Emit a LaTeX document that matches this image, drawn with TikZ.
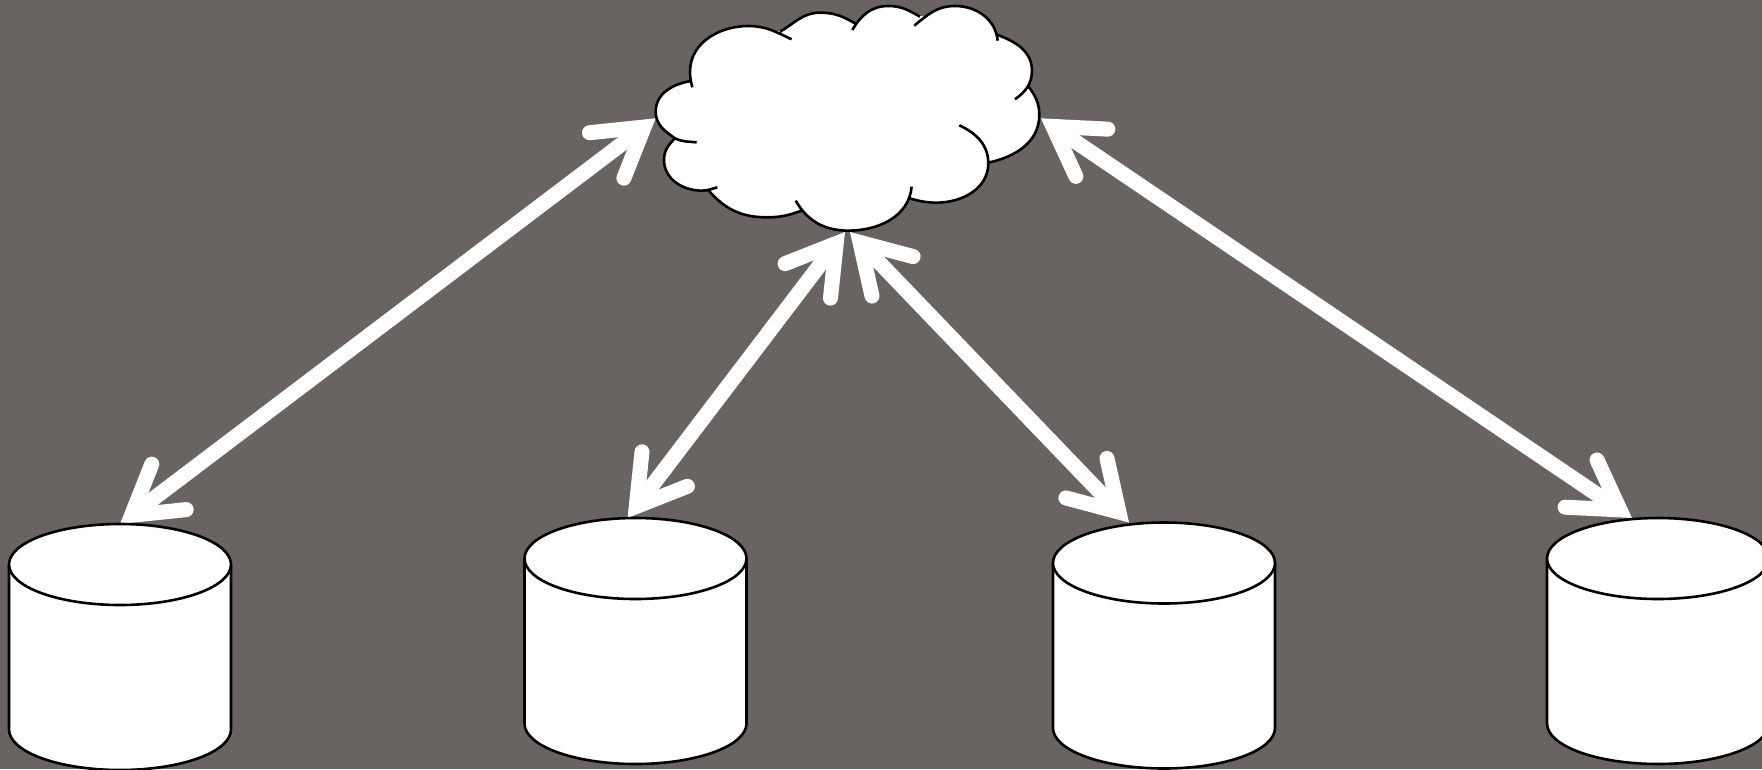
\documentclass[tikz,border=0pt]{standalone}
\usetikzlibrary{backgrounds,arrows.meta}
\definecolor{slate}{HTML}{696462}
\tikzset{
  barb/.tip={Straight Barb[length=47pt,width=57pt,line width=15pt,line cap=round,line join=miter]},
  link/.style={draw=white, line width=15pt, line cap=butt, barb-barb},
  outline/.style={draw=black, line width=2.6pt, line cap=butt},
  store/.pic={
    \path[fill=white] (-111,0) -- (-111,165) arc[start angle=180,end angle=360,x radius=111pt,y radius=40.5pt] -- (111,0) -- cycle;
    \draw[outline] (-111,0) -- (-111,165) arc[start angle=180,end angle=360,x radius=111pt,y radius=40.5pt] -- (111,0);
    \draw[outline, fill=white] (0,0) ellipse[x radius=111pt,y radius=40.5pt];
    \coordinate (-top) at (0,-40.5);
  }
}
\newcommand\cloudlobes{
  (455,118) to[out=155,in=0] (325,78) to[out=180,in=90] (150,215) to[out=270,in=105] (157,262)
  (152,243) to[out=190,in=90] (47,335) to[out=270,in=145] (105,415) to[out=-25,in=175] (170,427)
  (105,415) to[out=225,in=90] (72,480) to[out=270,in=180] (185,572) to[out=0,in=195] (232,562)
  (203,568) to[out=-50,in=180] (380,652) to[out=0,in=200] (485,632)
  (467,602) to[out=-60,in=180] (625,692) to[out=0,in=-95] (815,560)
  (808,595) to[out=-15,in=180] (890,608) to[out=0,in=-90] (1045,490) to[out=90,in=-25] (958,376)
  (1045,488) to[out=12,in=-90] (1198,345) to[out=90,in=-55] (1165,258)
  (1125,298) to[out=35,in=-90] (1176,212) to[out=90,in=-20] (1073,105)
  (1073,122) to[out=95,in=0] (945,18) to[out=180,in=40] (823,77)
  (840,50) to[out=150,in=0] (745,18) to[out=180,in=60] (637,90)
  (645,70) to[out=150,in=0] (540,38) to[out=180,in=30] (420,95)
}
\begin{document}
\begin{tikzpicture}[x=1pt,y=-1pt]
\useasboundingbox (0,0) rectangle (1762,769);
\pic (db1) at (120,564.5) {store};
\pic (db2) at (635.5,558.5) {store};
\pic (db3) at (1164,563) {store};
\pic (db4) at (1658,558.5) {store};
% cloud, outline in coordinates of a 3x crop
\begin{scope}[shift={(640,0)},x=.3333pt,y=-.3333pt]
\filldraw[white, line width=2pt] (152,243) -- (420,95) -- (645,70) -- (840,50) -- (1073,105) -- (1165,258) -- (1045,488) -- (808,595) -- (485,632) -- (203,568) -- (105,415) -- cycle;
\fill[white] \cloudlobes;
\draw[outline] \cloudlobes;
\coordinate (cloudleft) at (47,355);
\coordinate (cloudright) at (1203,355);
\coordinate (cloudbotl) at (615,696);
\coordinate (cloudbotr) at (630,696);
\end{scope}
\begin{scope}[on background layer]
\fill[slate] (0,0) rectangle (1762,769);
\draw[link] (cloudleft) -- (db1-top);
\draw[link] (cloudbotl) -- ([xshift=-8pt]db2-top);
\draw[link] (cloudbotr) -- ([xshift=-35pt]db3-top);
\draw[link] (cloudright) -- ([xshift=-26pt]db4-top);
\end{scope}
\end{tikzpicture}
\end{document}
